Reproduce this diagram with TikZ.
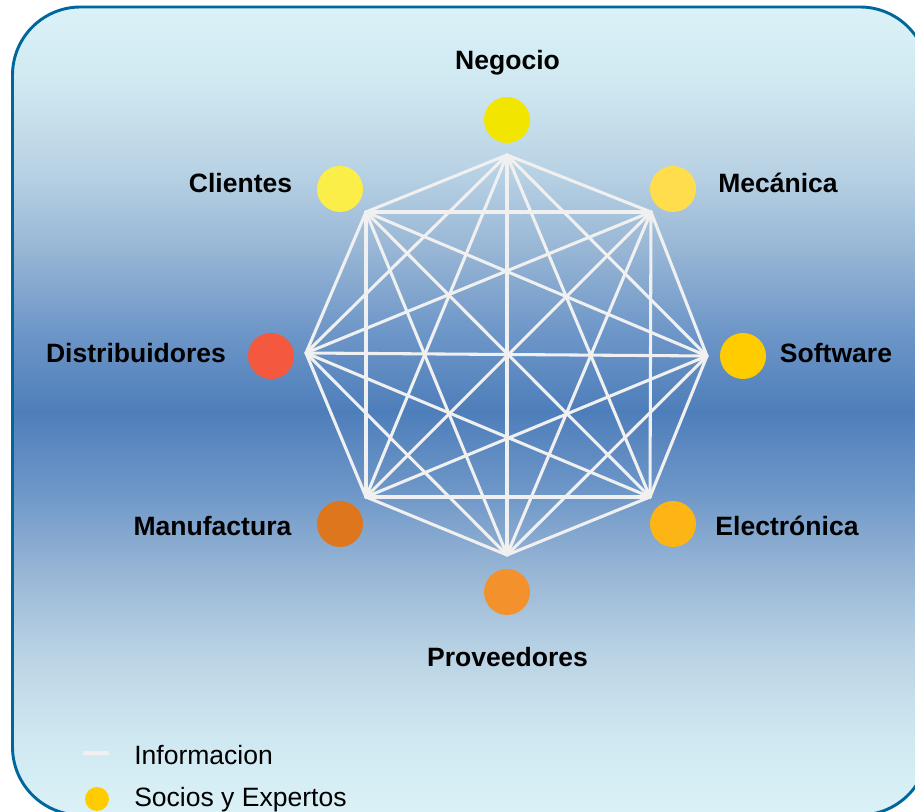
\documentclass[tikz,border=0pt]{standalone}
\usepackage{fontspec}
\setmainfont{Liberation Sans}
\definecolor{frameblue}{HTML}{00679C}
\definecolor{linkwhite}{HTML}{F0F0F0}
\definecolor{c0}{HTML}{DAF2F7}
\definecolor{c1}{HTML}{CFE7F0}
\definecolor{c2}{HTML}{B9D3E5}
\definecolor{c3}{HTML}{98B6D5}
\definecolor{c4}{HTML}{6E97C8}
\definecolor{c5}{HTML}{4E7EBA}
\pgfdeclareverticalshading{skyband}{100bp}{
 color(0bp)=(c0);
 color(25bp)=(c0);
 color(30bp)=(c1);
 color(35bp)=(c2);
 color(40bp)=(c3);
 color(45bp)=(c4);
 color(50bp)=(c5);
 color(55bp)=(c4);
 color(60bp)=(c3);
 color(65bp)=(c2);
 color(70bp)=(c1);
 color(75bp)=(c0);
 color(100bp)=(c0)}
\tikzset{
 x=0.75pt,y=-0.75pt,
 dot/.style={circle,inner sep=0pt,minimum size=34.5pt,fill=#1},
 lab/.style={font=\fontsize{19.9}{24}\selectfont\bfseries,text=black,inner sep=0pt,anchor=base},
 leg/.style={font=\fontsize{19.9}{24}\selectfont,text=black,inner sep=0pt,anchor=base west},
 link/.style={draw=linkwhite,line width=2.3pt,line cap=round,line join=round},
}
\begin{document}
\begin{tikzpicture}
\useasboundingbox (0,0) rectangle (915,812);
\begin{scope}
\clip (0,0) rectangle (915,812);
\shade[shading=skyband,shading angle=0,rounded corners=51pt] (12.5,7) rectangle (928,815);
\draw[frameblue,line width=2.2pt,rounded corners=51pt] (12.5,7) rectangle (928,815);
\end{scope}
\foreach \n/\x/\y in {va/507/155,vb/651/212,vc/707/356,vd/650/497,ve/507/555,vf/366/497,vg/306/353,vh/366/212}
  \coordinate (\n) at (\x,\y);
\foreach \p/\q in {va/vb,va/vc,va/vd,va/ve,va/vf,va/vg,va/vh,
 vb/vc,vb/vd,vb/ve,vb/vf,vb/vg,vb/vh,
 vc/vd,vc/ve,vc/vf,vc/vg,vc/vh,
 vd/ve,vd/vf,vd/vg,vd/vh,
 ve/vf,ve/vg,ve/vh,
 vf/vg,vf/vh,
 vg/vh}
  \draw[link] (\p) -- (\q);
\definecolor{dneg}{HTML}{F2E500}\definecolor{dcli}{HTML}{FBEE48}
\definecolor{dmec}{HTML}{FFDD4D}\definecolor{dsof}{HTML}{FFCC00}
\definecolor{dele}{HTML}{FDB515}\definecolor{dpro}{HTML}{F3922C}
\definecolor{dman}{HTML}{DE761E}\definecolor{ddis}{HTML}{F4593F}
\node[dot=dneg] (neg) at (507,120) {};
\node[dot=dcli] (cli) at (340,189) {};
\node[dot=dmec] (mec) at (673,189) {};
\node[dot=dsof] (sof) at (743,356) {};
\node[dot=dele] (ele) at (673,524) {};
\node[dot=dpro] (pro) at (507,592) {};
\node[dot=dman] (man) at (340,524) {};
\node[dot=ddis] (dis) at (271,356) {};
\node[lab] (tneg) at (507.5,70) {Negocio};
\node[lab] (tcli) at (240.5,193) {Clientes};
\node[lab] (tmec) at (778,193) {Mecánica};
\node[lab] (tsof) at (836,363) {Software};
\node[lab] (tele) at (787,536) {Electrónica};
\node[lab] (tpro) at (507.5,667) {Proveedores};
\node[lab] (tman) at (212.5,536) {Manufactura};
\node[lab] (tdis) at (136,363) {Distribuidores};
\coordinate (la) at (83,753);
\coordinate (lb) at (109,753);
\draw[link,line cap=butt] (la) -- (lb);
\node[dot=dsof,minimum size=18pt] (ldot) at (97,799) {};
\node[leg] (tinf) at (134,765) {Informacion};
\node[leg] (tsoc) at (134,807) {Socios y Expertos};
\end{tikzpicture}
\end{document}
